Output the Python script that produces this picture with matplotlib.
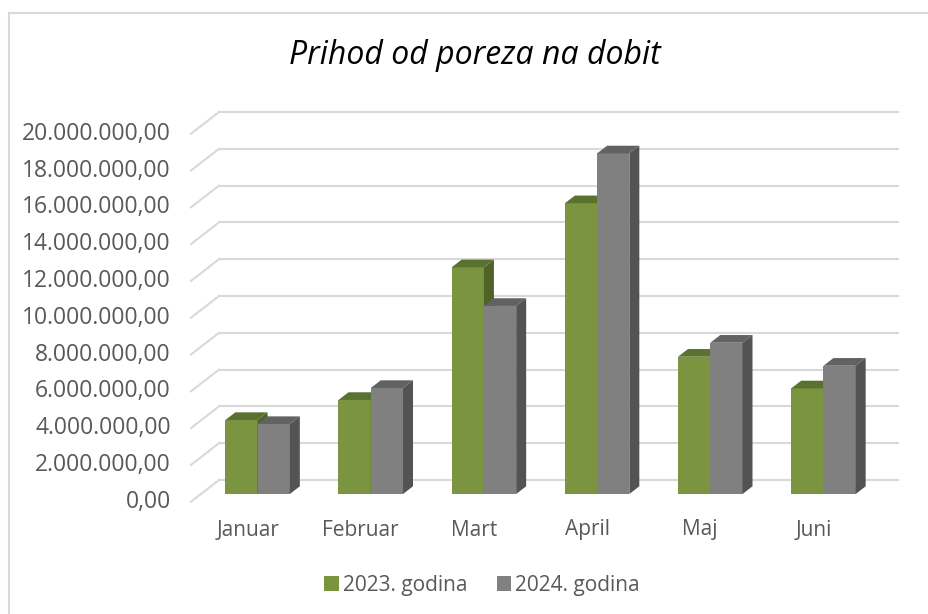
import matplotlib
matplotlib.use("Agg")
import matplotlib.pyplot as plt
from matplotlib.patches import Polygon, Patch, Rectangle
from matplotlib.transforms import offset_copy

# data
months = ["Januar", "Februar", "Mart", "April", "Maj", "Juni"]
series_names = ["2023. godina", "2024. godina"]
values_2023 = [4.02e6, 5.11e6, 12.32e6, 15.80e6, 7.46e6, 5.74e6]
values_2024 = [3.80e6, 5.76e6, 10.22e6, 18.51e6, 8.22e6, 6.97e6]
y_ticks = list(range(0, 20000001, 2000000))
title = "Prihod od poreza na dobit"

plt.rcParams["font.family"] = ["Open Sans", "DejaVu Sans"]
TXT = "#595959"
GRID = "#d9d9d9"
front_cols = ["#7a9440", "#808080"]
top_cols = ["#5a7230", "#626262"]
side_cols = ["#4f6328", "#535353"]

W, H = 929, 614
fig = plt.figure(figsize=(W / 100, H / 100), dpi=100)
ax = fig.add_axes([201 / W, 120 / H, 679 / W, 368 / H])
ax.set_xlim(-0.5, len(months) - 0.5)
ax.set_ylim(0, 20e6)
ax.axis("off")

# border (only top/left visible in the original crop)
fig.patches.append(Rectangle((8.5 / W, -0.1), 1.2, (H - 12.5) / H + 0.1,
                             transform=fig.transFigure, fill=False,
                             edgecolor="#d9d9d9", lw=1.5))


def px2data(dx, dy):
    inv = ax.transData.inverted()
    x0, y0 = inv.transform((0, 0))
    x1, y1 = inv.transform((dx, dy))
    return x1 - x0, y1 - y0


# pixel offsets of the oblique projection
bar_dx, bar_dy = px2data(10, 7.7)      # bar depth
wall_dx, wall_dy = px2data(18, 14)     # bar front -> back wall
floor_dx, floor_dy = px2data(-10, -7.7)  # bar front -> floor front

x_left, x_right = -0.5, len(months) - 0.5
for v in y_ticks:
    ax.plot([x_left + wall_dx, x_right + wall_dx], [v + wall_dy] * 2,
            color=GRID, lw=1.5, clip_on=False, zorder=1)
    ax.plot([x_left + floor_dx, x_left + wall_dx], [v + floor_dy, v + wall_dy],
            color=GRID, lw=1.5, clip_on=False, zorder=1)
    lbl = f"{v:,.2f}".replace(",", "X").replace(".", ",").replace("X", ".")
    ax.text(x_left, v, lbl, ha="right", va="center", fontsize=16.5, color=TXT,
            transform=offset_copy(ax.transData, fig, x=-30, y=-7.7, units="dots"))

bw = 0.285
for i, m in enumerate(months):
    for k, vals in enumerate([values_2023, values_2024]):
        x0 = i - bw + k * bw
        x1 = x0 + bw
        h = vals[i]
        ax.add_patch(Polygon([(x0, 0), (x1, 0), (x1, h), (x0, h)],
                             facecolor=front_cols[k], edgecolor="none", zorder=3))
        ax.add_patch(Polygon([(x0, h), (x1, h), (x1 + bar_dx, h + bar_dy),
                              (x0 + bar_dx, h + bar_dy)],
                             facecolor=top_cols[k], edgecolor="none", zorder=3))
        ax.add_patch(Polygon([(x1, 0), (x1 + bar_dx, bar_dy),
                              (x1 + bar_dx, h + bar_dy), (x1, h)],
                             facecolor=side_cols[k], edgecolor="none", zorder=3))
    ax.text(i, 0, m, ha="center", va="center", fontsize=15, color=TXT,
            transform=offset_copy(ax.transData, fig, x=-10, y=-36, units="dots"))

fig.text(475 / W, 1 - 56 / H, title, ha="center", va="center", fontsize=23,
         style="italic", color="#000000")

handles = [Patch(facecolor=c, edgecolor="none") for c in front_cols]
fig.legend(handles, series_names, loc="center", ncol=2,
           bbox_to_anchor=(482 / W, 1 - 585 / H), frameon=False,
           fontsize=15, labelcolor=TXT, handlelength=0.7, handleheight=0.7,
           handletextpad=0.2, columnspacing=1.4)

fig.savefig("out.png", dpi=100)
